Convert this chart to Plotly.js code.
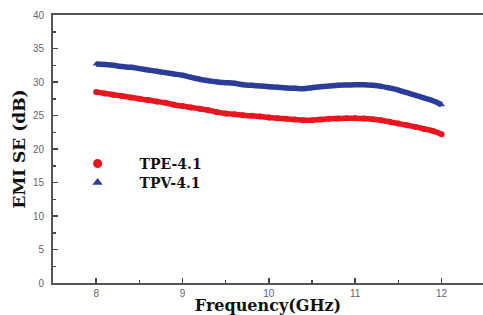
<!DOCTYPE html>
<html><head><meta charset="utf-8">
<script src="https://cdn.plot.ly/plotly-3.0.1.min.js"></script>
<style>html,body{margin:0;padding:0;background:#fff;}#chart{width:483px;height:315px;}</style>
</head><body><div id="chart"></div>
<script>
const freq = [8.0,8.1,8.2,8.3,8.4,8.5,8.6,8.7,8.8,8.9,9.0,9.1,9.2,9.3,9.4,9.5,9.6,9.7,9.8,9.9,10.0,10.1,10.2,10.3,10.4,10.5,10.6,10.7,10.8,10.9,11.0,11.1,11.2,11.3,11.4,11.5,11.6,11.7,11.8,11.9,12.0];
const tpe = [28.5,28.3,28.1,27.9,27.7,27.5,27.3,27.1,26.9,26.6,26.4,26.2,26.0,25.8,25.5,25.3,25.2,25.05,24.95,24.85,24.7,24.6,24.5,24.4,24.3,24.3,24.4,24.5,24.55,24.6,24.6,24.55,24.45,24.3,24.05,23.8,23.55,23.3,23.0,22.7,22.2];
const tpv = [32.7,32.6,32.5,32.3,32.2,32.0,31.8,31.6,31.4,31.2,31.0,30.7,30.4,30.2,30.0,29.9,29.8,29.6,29.5,29.4,29.3,29.2,29.1,29.05,29.0,29.15,29.3,29.4,29.5,29.55,29.6,29.6,29.5,29.35,29.1,28.8,28.4,28.0,27.6,27.2,26.6];
const names = ["TPE-4.1","TPV-4.1"];
const xTicks = [8,9,10,11,12];
const yTicks = [0,5,10,15,20,25,30,35,40];
const red = "#e8161e", blue = "#2c3c99";

const traces = [
  {x: freq, y: tpe, name: names[0], mode: "lines+markers", showlegend: false, line:{color:red,width:5.5,shape:"spline"},
   marker:{symbol:"circle",size:6,color:red}},
  {x: freq, y: tpv, name: names[1], mode: "lines+markers", showlegend: false, line:{color:blue,width:5.5,shape:"spline"},
   marker:{symbol:"triangle-up",size:6,color:blue}},
  {x: [null], y: [null], name: names[0], mode: "markers", legend: "legend",
   marker:{symbol:"circle",size:9,color:red}},
  {x: [null], y: [null], name: names[1], mode: "markers", legend: "legend2",
   marker:{symbol:"triangle-up",size:9,color:blue}}
];
const serif = "DejaVu Serif, serif";
const legFont = {family: serif, size: 14, color: "#111", weight: "bold"};
const layout = {
  width: 483, height: 315,
  margin: {l: 53, r: 0, t: 15, b: 32},
  paper_bgcolor: "#fff", plot_bgcolor: "#fff",
  showlegend: true,
  legend: {x: 0.006, y: 0.504, xanchor: "left", yanchor: "top", bgcolor: "rgba(0,0,0,0)", font: legFont, itemwidth: 74},
  legend2: {x: 0.006, y: 0.433, xanchor: "left", yanchor: "top", bgcolor: "rgba(0,0,0,0)", font: legFont, itemwidth: 74},
  xaxis: {range: [7.5, 12.48], tickvals: xTicks, ticktext: xTicks.map(String), ticks: "inside", ticklen: 5,
    tickwidth: 1.5, tickcolor: "#444", showline: true, linecolor: "#555", linewidth: 2, mirror: true,
    showgrid: false, zeroline: false,
    minor: {dtick: 0.5, tick0: 7.5, ticks: "inside", ticklen: 3, tickcolor: "#444", showgrid: false},
    tickfont: {family: "Liberation Sans, Arial, sans-serif", size: 10, color: "#666"},
    title: {text: "Frequency(GHz)", standoff: 0, font: {family: serif, size: 16, color: "#111", weight: "bold"}}},
  yaxis: {range: [0, 40], tickvals: yTicks, ticks: "inside", ticklen: 5, tickwidth: 1.5, tickcolor: "#444",
    showline: true, linecolor: "#555", linewidth: 2, mirror: true, showgrid: false, zeroline: false,
    ticklabelstandoff: 5,
    minor: {dtick: 2.5, ticks: "inside", ticklen: 3, tickcolor: "#444", showgrid: false},
    tickfont: {family: "Liberation Sans, Arial, sans-serif", size: 10, color: "#666"},
    title: {text: "EMI SE (dB)", standoff: 3, font: {family: serif, size: 17, color: "#111", weight: "bold"}}}
};
Plotly.newPlot("chart", traces, layout, {staticPlot: true, displayModeBar: false});
</script></body></html>
